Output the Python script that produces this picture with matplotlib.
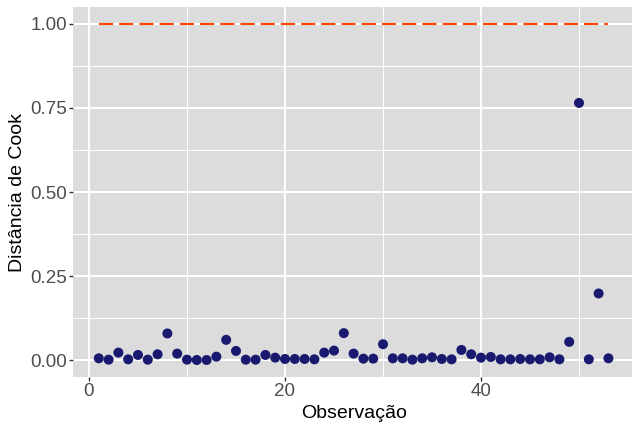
import matplotlib
matplotlib.use("Agg")
import matplotlib.pyplot as plt
import numpy as np
from matplotlib.ticker import MultipleLocator, FormatStrFormatter

plt.rcParams['font.family'] = ['Liberation Sans', 'DejaVu Sans']

obs = list(range(1, 54))
cook = [0.005, 0.001, 0.022, 0.002, 0.015, 0.001, 0.017, 0.079, 0.019, 0.001,
        0.000, 0.000, 0.010, 0.060, 0.027, 0.001, 0.001, 0.015, 0.007, 0.003,
        0.003, 0.003, 0.002, 0.022, 0.028, 0.080, 0.019, 0.004, 0.004, 0.047,
        0.005, 0.005, 0.001, 0.005, 0.008, 0.003, 0.002, 0.030, 0.017, 0.007,
        0.009, 0.002, 0.002, 0.003, 0.002, 0.002, 0.008, 0.002, 0.054, 0.765,
        0.002, 0.198, 0.005]
threshold = 1.0

W, H = 632, 423
fig = plt.figure(figsize=(W / 100, H / 100), dpi=100)
left, right, top, bottom = 73.3, 633.9, 7.2, 376.8
ax = fig.add_axes([left / W, 1 - bottom / H, (right - left) / W, (bottom - top) / H])

bg = '#DCDCDC'
ax.set_facecolor(bg)
for s in ax.spines.values():
    s.set_visible(False)

ax.set_xlim(-1.6, 55.6)
ax.set_ylim(-0.05, 1.05)
ax.xaxis.set_major_locator(MultipleLocator(20))
ax.xaxis.set_minor_locator(MultipleLocator(10))
ax.yaxis.set_major_locator(MultipleLocator(0.25))
ax.yaxis.set_minor_locator(MultipleLocator(0.125))
ax.yaxis.set_major_formatter(FormatStrFormatter('%.2f'))

ax.grid(which='major', color='white', linewidth=1.4)
ax.grid(which='minor', color='white', linewidth=0.7)
ax.set_axisbelow(True)

ax.tick_params(which='major', length=2.6, width=1.0, color='#333333',
               labelsize=13.5, labelcolor='#4D4D4D', pad=1.8)
ax.tick_params(which='minor', length=0)

ax.plot([obs[0], obs[-1]], [threshold, threshold], color='#FF4500',
        linewidth=1.5, dashes=(6.8, 2.9), zorder=2)
ax.scatter(obs, cook, s=52, color='#191970', edgecolors='none', zorder=3)

ax.set_xlabel('Observação', fontsize=14, color='black', labelpad=4)
ax.set_ylabel('Distância de Cook', fontsize=14, color='black', labelpad=3)

fig.savefig('out.png', dpi=100)
